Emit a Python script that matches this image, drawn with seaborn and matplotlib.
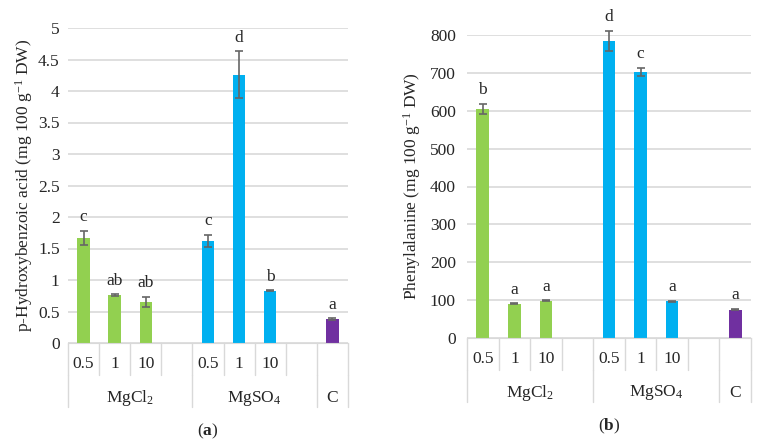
import pandas as pd
import seaborn as sns
import matplotlib.pyplot as plt

# slots on the category axis (empty ones are gaps between groups)
slots = ["Cl 0.5", "Cl 1", "Cl 10", "gap1", "SO 0.5", "SO 1", "SO 10", "gap2", "C"]
bar_slots = ["Cl 0.5", "Cl 1", "Cl 10", "SO 0.5", "SO 1", "SO 10", "C"]
salt = ["MgCl2", "MgCl2", "MgCl2", "MgSO4", "MgSO4", "MgSO4", "C"]
dose_labels = ["0.5", "1", "10", "", "0.5", "1", "10", "", ""]

phb = [1.67, 0.76, 0.65, 1.62, 4.26, 0.83, 0.38]
phb_err = [0.11, 0.01, 0.08, 0.10, 0.37, 0.005, 0.01]
phb_letters = ["c", "ab", "ab", "c", "d", "b", "a"]

phe = [605, 91, 99, 785, 703, 97, 75]
phe_err = [13, 1, 1, 26, 10, 2, 2]
phe_letters = ["b", "a", "a", "d", "c", "a", "a"]

groups = [r"MgCl$_2$", r"MgSO$_4$", "C"]
group_centers = [1.5, 5.5, 8]
group_edges = [-0.5, 3.5, 7.5, 8.5]

palette = {"MgCl2": "#92D050", "MgSO4": "#00B0F0", "C": "#7030A0"}

sns.set_style("white")
plt.rcParams["font.family"] = ["Liberation Serif", "DejaVu Serif"]
plt.rcParams["mathtext.fontset"] = "custom"
plt.rcParams["mathtext.rm"] = "Liberation Serif"
plt.rcParams["mathtext.it"] = "Liberation Serif:italic"
plt.rcParams["mathtext.bf"] = "Liberation Serif:bold"

W, H = 766, 447
fig = plt.figure(figsize=(W / 100, H / 100), dpi=100)

grid_c = "#D9D9D9"
fs = 12.5


def panel(rect, values, errs, letters, ymax, ystep, ylabel, caption, lpad, tpad):
    x0, x1, ytop, ybot = rect
    ax = fig.add_axes([x0 / W, 1 - ybot / H, (x1 - x0) / W, (ybot - ytop) / H])
    df = pd.DataFrame({"slot": bar_slots, "salt": salt, "value": values})
    sns.barplot(data=df, x="slot", y="value", hue="salt", order=slots,
                palette=palette, dodge=False, width=0.4, legend=False,
                saturation=1, linewidth=0, ax=ax)
    pos = [slots.index(s) for s in bar_slots]
    eb = ax.errorbar(pos, values, yerr=errs, fmt="none", ecolor="#666666",
                     elinewidth=1.2, capsize=3, capthick=1.2)
    for art in eb.get_children():
        art.set_clip_on(False)
    for p, v, e, t in zip(pos, values, errs, letters):
        ax.annotate(t, (p, v + e), xytext=(0, 4), textcoords="offset points",
                    ha="center", va="bottom", fontsize=fs, annotation_clip=False)
    ax.set_xlim(-0.5, 8.5)
    ax.set_ylim(0, ymax)
    ticks = [i * ystep for i in range(int(round(ymax / ystep)) + 1)]
    ax.set_yticks(ticks)
    ax.set_yticklabels([f"{t:g}" for t in ticks], fontsize=fs)
    ax.tick_params(axis="y", length=0, pad=tpad)
    ax.yaxis.grid(True, color=grid_c, lw=1.2)
    ax.set_axisbelow(True)
    for s in ["left", "right", "top"]:
        ax.spines[s].set_visible(False)
    ax.spines["bottom"].set_color(grid_c)
    ax.set_xticks([])
    ax.set_xlabel("")
    ax.set_ylabel(ylabel, fontsize=fs, labelpad=lpad)

    hpx = ybot - ytop
    tr = ax.get_xaxis_transform()
    d1, d2 = -32 / hpx, -64 / hpx
    for i in range(10):
        ax.plot([i - 0.5, i - 0.5], [0, d1], color=grid_c, lw=1, transform=tr, clip_on=False)
    for e in group_edges:
        ax.plot([e, e], [d1, d2], color=grid_c, lw=1, transform=tr, clip_on=False)
    for i, lab in enumerate(dose_labels):
        ax.text(i, -21 / hpx, lab, ha="center", va="center", fontsize=fs, transform=tr)
    for c, g in zip(group_centers, groups):
        ax.text(c, -55 / hpx, g, ha="center", va="center", fontsize=fs, transform=tr)
    ax.text(0.5, -88 / hpx, caption, ha="center", va="center", fontsize=fs,
            transform=ax.transAxes)
    return ax


panel((68, 348, 28, 343), phb, phb_err, phb_letters, 5, 0.5,
      r"p-Hydroxybenzoic acid (mg 100 g$^{-1}$ DW)", r"($\mathbf{a}$)", 2, 6)
panel((467, 751, 35, 338), phe, phe_err, phe_letters, 800, 100,
      r"Phenylalanine (mg 100 g$^{-1}$ DW)", r"($\mathbf{b}$)", 5, 8)

fig.savefig("out.png", dpi=100)
